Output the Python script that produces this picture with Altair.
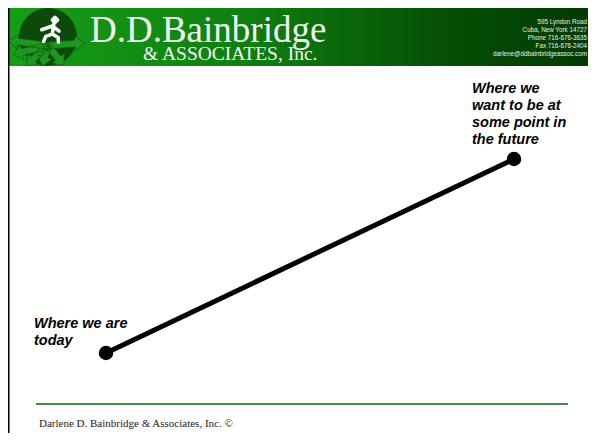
import math
import altair as alt
import pandas as pd

# ---------------- data ----------------
stages = ["today", "future"]
time_values = [0, 1]
level_values = [0, 1]
labels = ["Where we are\ntoday", "Where we\nwant to be at\nsome point in\nthe future"]

company_name = "D.D.Bainbridge"
company_sub = "& ASSOCIATES, Inc."
address_lines = [
    "595 Lyndon Road",
    "Cuba, New York  14727",
    "Phone  716-676-3635",
    "Fax  716-676-2404",
    "darlene@ddbainbridgeassoc.com",
]
footer_text = "Darlene D. Bainbridge & Associates, Inc. \u00a9"

df = pd.DataFrame({"stage": stages, "time": time_values, "level": level_values, "label": labels})

W, H = 580, 425
one = alt.Data(values=[{"k": 0}])

# ---------------- logo geometry (decoration) ----------------
def arrow(cx, cy, tx, ty, w=0.12, hw=0.27, hl=0.32):
    dx, dy = tx - cx, ty - cy
    L = math.hypot(dx, dy)
    ux, uy = dx / L, dy / L
    px, py = -uy, ux
    bx, by = tx - ux * hl, ty - uy * hl
    pts = [(cx + px * w, cy + py * w), (bx + px * w, by + py * w), (bx + px * hw, by + py * hw),
           (tx, ty), (bx - px * hw, by - py * hw), (bx - px * w, by - py * w), (cx - px * w, cy - py * w)]
    return "M" + " L".join(f"{x:.3f},{y:.3f}" for x, y in pts) + " Z"

burst_c = (0.0, 0.3)
tips = [(-1.35, 0.12), (-1.2, 0.6), (-0.75, 0.98), (-0.2, 1.0), (0.55, 0.98), (1.25, 0.2)]
burst_path = " ".join(arrow(burst_c[0], burst_c[1], tx, ty) for tx, ty in tips)
runner_path = ("M0.2,-0.45 L0.15,-0.1 "
               "M-0.22,-0.25 L0.15,-0.38 L0.38,-0.2 "
               "M0.15,-0.1 L-0.08,-0.02 L-0.15,0.15 "
               "M0.15,-0.1 L0.35,0.02 L0.36,0.18 "
               "M0.24,-0.68 L0.33,-0.59 L0.24,-0.5 L0.15,-0.59 Z")
LOGO_SIZE = 3364
LX, LY = 40, 29

gradient = alt.LinearGradient(
    gradient="linear",
    stops=[alt.GradientStop(color="#169e16", offset=0),
           alt.GradientStop(color="#0f8010", offset=0.4),
           alt.GradientStop(color="#055005", offset=0.75),
           alt.GradientStop(color="#023a02", offset=1)],
    x1=0, x2=1, y1=0, y2=0)

header = alt.Chart(one).mark_rect(fill=gradient).encode(
    x=alt.value(1), x2=alt.value(W), y=alt.value(0), y2=alt.value(58))

logo_circle = alt.Chart(one).mark_point(shape="circle", filled=True, fill="#0a4a0a", stroke=None,
                                        size=LOGO_SIZE, opacity=1).encode(x=alt.value(LX), y=alt.value(LY))
logo_burst = alt.Chart(one).mark_point(shape=burst_path, filled=True, fill="#1f961f", stroke="#0b5a0b",
                                       strokeWidth=0.7, size=LOGO_SIZE, opacity=1).encode(x=alt.value(LX), y=alt.value(LY))
logo_runner = alt.Chart(one).mark_point(shape=runner_path, filled=False, stroke="white", strokeWidth=3.5,
                                        strokeCap="round", strokeJoin="round", size=LOGO_SIZE,
                                        opacity=1).encode(x=alt.value(LX), y=alt.value(LY))

name_txt = alt.Chart(one).mark_text(text=company_name, font="Liberation Serif", fontSize=37, color="#f2f7f2",
                                    align="left", baseline="alphabetic").encode(x=alt.value(82), y=alt.value(34))
sub_txt = alt.Chart(one).mark_text(text=company_sub, font="Liberation Serif", fontSize=19.5, color="#f2f7f2",
                                   align="left", baseline="alphabetic").encode(x=alt.value(135), y=alt.value(52))
addr_txt = alt.Chart(one).mark_text(text="\n".join(address_lines), lineBreak="\n", lineHeight=7.9,
                                    font="Liberation Sans", fontSize=6.3, color="#e6f0e6",
                                    align="right", baseline="alphabetic").encode(x=alt.value(579), y=alt.value(16))

border_l = alt.Chart(one).mark_rule(color="black", strokeWidth=3).encode(
    x=alt.value(0), y=alt.value(0), y2=alt.value(H))

footer_rule = alt.Chart(one).mark_rule(color="#0a640a", strokeWidth=1.5).encode(
    x=alt.value(28), x2=alt.value(560), y=alt.value(396))
footer_txt = alt.Chart(one).mark_text(text=footer_text, font="Liberation Serif", fontSize=11, color="#222222",
                                      align="left", baseline="alphabetic").encode(x=alt.value(31), y=alt.value(419))

# ---------------- main path ----------------
X = alt.X("time:Q", axis=None, scale=alt.Scale(domain=[-0.24020, 1.18137], nice=False, zero=False))
Y = alt.Y("level:Q", axis=None, scale=alt.Scale(domain=[-0.41237, 1.77835], nice=False, zero=False))

line = alt.Chart().mark_line(color="black", strokeWidth=5).encode(x=X, y=Y, order="time:Q")
dots = alt.Chart().mark_point(shape="circle", filled=True, color="black", size=210, opacity=1).encode(x=X, y=Y)

label_font = dict(font="Liberation Sans", fontSize=14.5, fontStyle="italic", fontWeight="bold",
                  color="black", align="left", baseline="alphabetic", lineBreak="\n", lineHeight=17)
label_today = alt.Chart().transform_filter(alt.datum.stage == "today").mark_text(
    dx=-72, dy=-25, **label_font).encode(x=X, y=Y, text="label:N")
label_future = alt.Chart().transform_filter(alt.datum.stage == "future").mark_text(
    dx=-42, dy=-66, **label_font).encode(x=X, y=Y, text="label:N")

chart = alt.layer(
    header, logo_circle, logo_burst, logo_runner, name_txt, sub_txt, addr_txt,
    border_l, footer_rule, footer_txt,
    line, dots, label_today, label_future,
    data=df,
).properties(
    width=W, height=H, padding=0, background="white",
    autosize=alt.AutoSizeParams(type="none"),
).configure_view(stroke=None)

chart.save("out.html", embed_options={"renderer": "svg", "actions": False})
